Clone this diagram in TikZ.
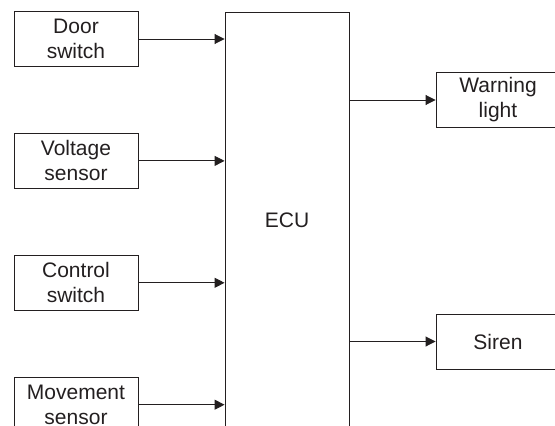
\documentclass[tikz,border=0pt]{standalone}
\usepackage{fontspec}
\setmainfont{Liberation Sans}
\usetikzlibrary{positioning, calc, arrows.meta}

\definecolor{inkgray}{HTML}{231F20}

\begin{document}
\begin{tikzpicture}
    [x=1pt, y=-1pt,
    squarednode/.style={rectangle, draw=inkgray, line width=0.9pt, minimum width=124pt,
        minimum height=55pt, inner sep=2pt, align=center, text=inkgray,
        font=\fontsize{21}{25}\selectfont},
    signal/.style={draw=inkgray, line width=0.9pt, -{Triangle[length=10pt, width=10pt]}},]

    \useasboundingbox (0,0) rectangle (555,426);
    \clip (0,0) rectangle (555,426);

    %Inputs
    \node[squarednode](door) at (76,39) {Door\\switch};
    \node[squarednode](voltage)[below=66pt of door] {Voltage\\sensor};
    \node[squarednode](control)[below=66pt of voltage] {Control\\switch};
    \node[squarednode](movement)[below=66pt of control] {Movement\\sensor};

    %Controller
    \node[squarednode, minimum height=416pt](ecu) at (287,220) {ECU};

    %Outputs
    \node[squarednode](warning) at (498,100) {Warning\\light};
    \node[squarednode](siren) at (498,341.5) {Siren};

    %Lines
    \foreach \src in {door, voltage, control, movement}
        \draw[signal](\src.east)--(\src.east -| ecu.west);
    \foreach \dst in {warning, siren}
        \draw[signal](ecu.east |- \dst.west)--(\dst.west);

\end{tikzpicture}
\end{document}
